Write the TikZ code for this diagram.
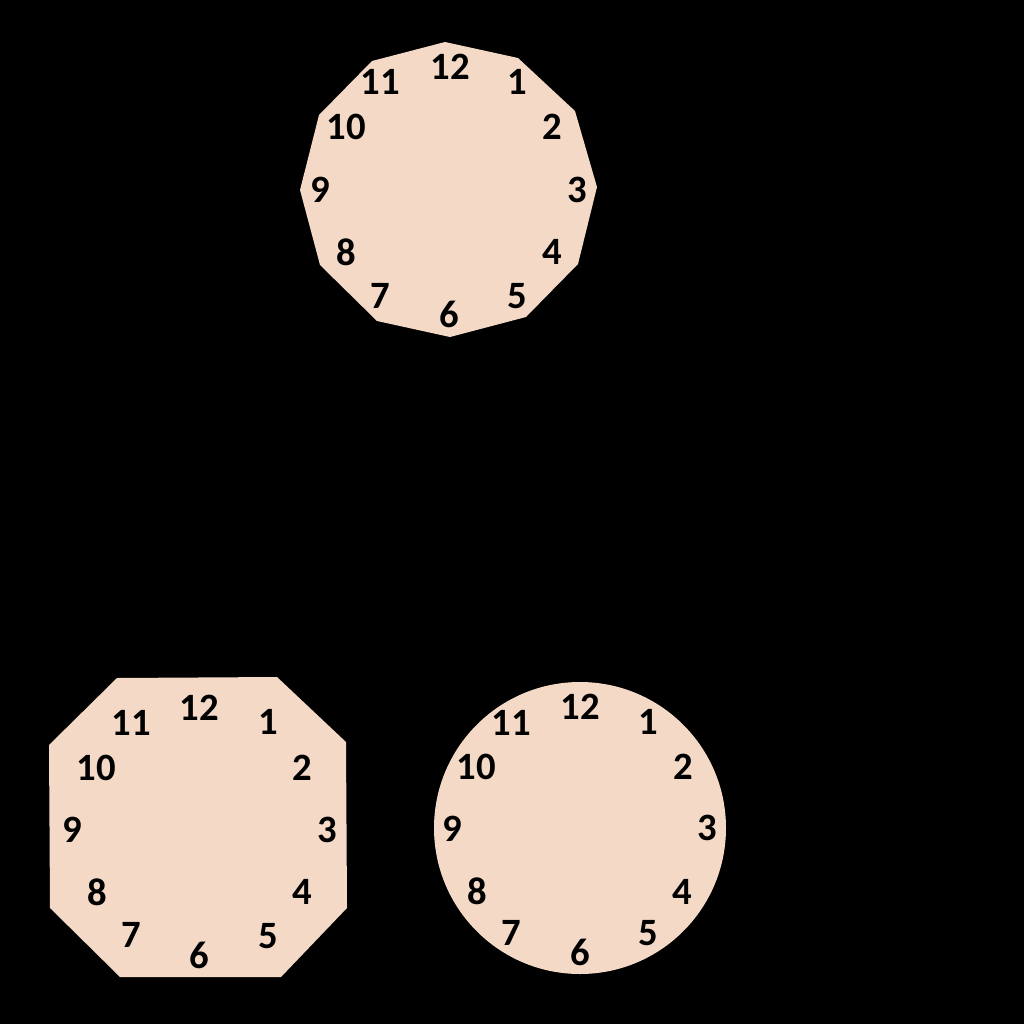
\documentclass[tikz,border=0pt]{standalone}
\usepackage{fontspec}
\setmainfont{Carlito}
\usepackage{tikz}
\usetikzlibrary{positioning}

\begin{document}
\begin{tikzpicture}[x=0.01cm, y=-0.01cm]
      % colours
      \definecolor{facecolor}{RGB}{243,217,198}
      \definecolor{bgcolor}{RGB}{0,0,0}

      % styles
      \tikzstyle{face} = [fill=facecolor, draw=none]
      \tikzstyle{num} = [inner sep=0pt, text=black, font=\fontsize{11}{13}\selectfont\bfseries]

      % background
      \fill[bgcolor] (0,0) rectangle (1024,1024);
      \useasboundingbox (0,0) rectangle (1024,1024);

      % dodecagon clock face
      \fill[face] (445,42) -- (518,58) -- (575,111) -- (597,187) -- (578,264) -- (526,317)
        -- (450,337) -- (377,321) -- (320,265) -- (300,190) -- (319,115) -- (372,61) -- cycle;
      \node[num] (d12) at (450,67) {12};
      \node[num] (d1) at (517,82) {1};
      \node[num] (d2) at (552,127) {2};
      \node[num] (d3) at (577,190) {3};
      \node[num] (d4) at (552,252) {4};
      \node[num] (d5) at (517,296) {5};
      \node[num] (d6) at (449,314) {6};
      \node[num] (d7) at (380,296) {7};
      \node[num] (d8) at (346,252) {8};
      \node[num] (d9) at (320,190) {9};
      \node[num] (d10) at (346,127) {10};
      \node[num] (d11) at (380,82) {11};

      % octagon clock face
      \fill[face] (117,678) -- (277,677) -- (346,742) -- (347,908) -- (281,977)
        -- (120,977) -- (50,908) -- (49,745) -- cycle;
      \node[num] (o12) at (199,708) {12};
      \node[num] (o1) at (268,722) {1};
      \node[num] (o2) at (302,768) {2};
      \node[num] (o3) at (327,830) {3};
      \node[num] (o4) at (302,892) {4};
      \node[num] (o5) at (268,936) {5};
      \node[num] (o6) at (199,955) {6};
      \node[num] (o7) at (131,935) {7};
      \node[num] (o8) at (97,892) {8};
      \node[num] (o9) at (72,830) {9};
      \node[num] (o10) at (96,768) {10};
      \node[num] (o11) at (131,723) {11};

      % round clock face
      \fill[face] (580,828) circle (146);
      \node[num] (c12) at (580,707) {12};
      \node[num] (c1) at (648,722) {1};
      \node[num] (c2) at (683,767) {2};
      \node[num] (c3) at (707,828) {3};
      \node[num] (c4) at (682,892) {4};
      \node[num] (c5) at (648,933) {5};
      \node[num] (c6) at (580,952) {6};
      \node[num] (c7) at (511,933) {7};
      \node[num] (c8) at (477,891) {8};
      \node[num] (c9) at (452,829) {9};
      \node[num] (c10) at (476,767) {10};
      \node[num] (c11) at (511,723) {11};
    \end{tikzpicture}
\end{document}
